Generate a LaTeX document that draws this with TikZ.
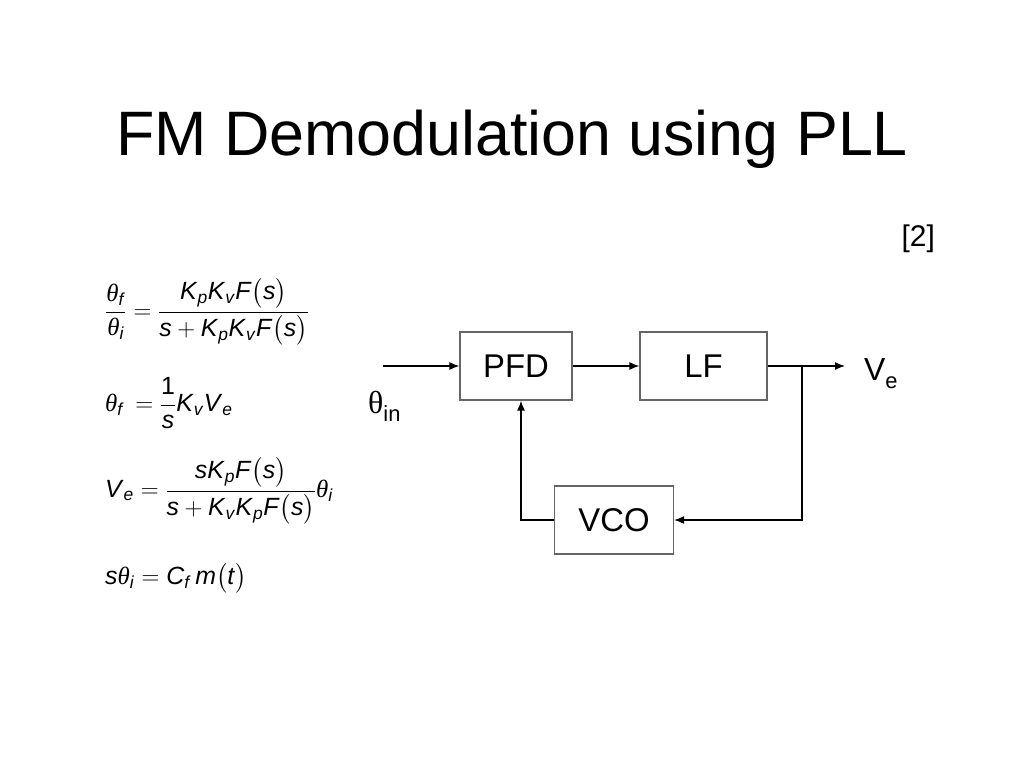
\documentclass[tikz,border=0pt]{standalone}
\usepackage{amsmath}
\usepackage{fontspec}
\setmainfont{Liberation Sans}
\newfontfamily\grk{Liberation Serif}
\usetikzlibrary{shapes.geometric, arrows.meta, calc}

\newcommand{\ivar}[1]{\text{\itshape #1\/}}
\newcommand{\gth}{\text{\grk\itshape θ\/}}

\begin{document}
\begin{tikzpicture}[x=1bp, y=-1bp, node distance=154bp]
    \tikzstyle{block} = [rectangle, minimum height=68bp, text centered, draw=black!60, line width=1.2bp, font=\fontsize{33}{38}\selectfont]
    \tikzstyle{eqn} = [anchor=west, inner sep=0pt, font=\fontsize{25}{30}\selectfont]
    \tikzstyle{arrow} = [line width=1.3bp, -{Latex[length=10bp, width=8bp]}]

    \useasboundingbox (0,0) rectangle (1024,768);

    \node (title) [anchor=base, font=\fontsize{63}{72}\selectfont] at (512,155) {FM Demodulation using PLL};
    \node (ref) [anchor=base east, inner sep=0pt, font=\fontsize{30}{36}\selectfont] at (935,246) {[2]};

    % block diagram
    \node (pfd) [block, minimum width=112bp] at (516,366) {PFD};
    \node (lf) [block, minimum width=127bp, right of=pfd, xshift=33.5bp] {LF};
    \node (vco) [block, minimum width=119bp, below of=pfd, xshift=98bp] {VCO};

    \coordinate (in) at (383,366);
    \coordinate (out) at (845,366);
    \coordinate (tap) at (802,366);

    \node (thetain) [anchor=base west, inner sep=0pt, font=\fontsize{32}{36}\selectfont] at (368,413) {{\grk θ}\raisebox{-8bp}{\fontsize{22}{24}\selectfont in}};
    \node (ve) [anchor=base west, inner sep=0pt, font=\fontsize{32}{36}\selectfont] at (864,380) {V\raisebox{-8bp}{\fontsize{22}{24}\selectfont e}};

    \draw [arrow] (in) -- (pfd);
    \draw [arrow] (pfd) -- (lf);
    \draw [arrow] (lf) -- (out);
    \draw [arrow] (tap) |- (vco);
    \draw [arrow] (vco.west) -| ([xshift=5bp]pfd.south);

    % equations
    \node (eq1) [eqn] at (105,312) {$\dfrac{\gth_{\ivar{f}}}{\gth_{\ivar{i}}} = \dfrac{\ivar{K}_{\ivar{p}}\ivar{K}_{\ivar{v}}\ivar{F}\bigl(\ivar{s}\bigr)}{\ivar{s}+\ivar{K}_{\ivar{p}}\ivar{K}_{\ivar{v}}\ivar{F}\bigl(\ivar{s}\bigr)}$};
    \node (eq2) [eqn] at (105,403) {$\gth_{\ivar{f}} \,= \dfrac{\text{1}}{\ivar{s}}\ivar{K}_{\ivar{v}}\ivar{V}_{\ivar{e}}$};
    \node (eq3) [eqn] at (105,491) {$\ivar{V}_{\ivar{e}} = \dfrac{\ivar{s}\ivar{K}_{\ivar{p}}\ivar{F}\bigl(\ivar{s}\bigr)}{\ivar{s}+\ivar{K}_{\ivar{v}}\ivar{K}_{\ivar{p}}\ivar{F}\bigl(\ivar{s}\bigr)}\gth_{\ivar{i}}$};
    \node (eq4) [eqn] at (105,578) {$\ivar{s}\gth_{\ivar{i}} = \ivar{C}_{\ivar{f}}\,\ivar{m}\bigl(\ivar{t}\bigr)$};
\end{tikzpicture}
\end{document}
